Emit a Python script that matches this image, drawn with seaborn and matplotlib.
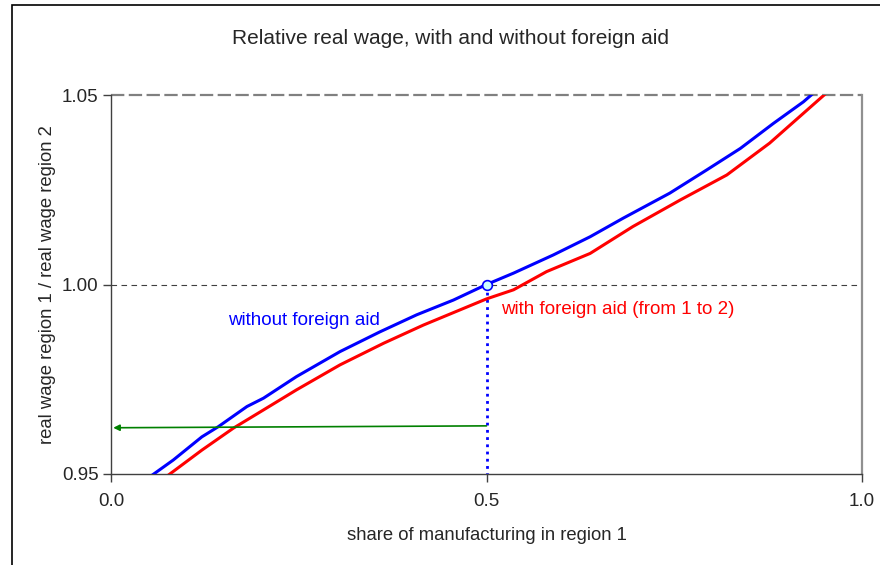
import numpy as np
import pandas as pd
import seaborn as sns
import matplotlib.pyplot as plt
from matplotlib.patches import Rectangle

# relative real wage
share_no_aid = [0.045, 0.052, 0.083, 0.121, 0.143, 0.181, 0.203, 0.247, 0.305, 0.358, 0.407,
                0.456, 0.500, 0.536, 0.589, 0.638, 0.682, 0.744, 0.793, 0.838, 0.882,
                0.922, 0.940, 0.950]
wage_no_aid = [0.9482, 0.9493, 0.9537, 0.9598, 0.9625, 0.9678, 0.9700, 0.9757, 0.9823, 0.9875, 0.9920,
               0.9959, 1.0000, 1.0030, 1.0078, 1.0126, 1.0175, 1.0241, 1.0302, 1.0359, 1.0425,
               1.0482, 1.0513, 1.0530]

share_aid = [0.060, 0.0675, 0.121, 0.163, 0.203, 0.247, 0.305, 0.363, 0.416, 0.500, 0.536,
             0.580, 0.638, 0.695, 0.758, 0.820, 0.877, 0.917, 0.957, 0.965]
wage_aid = [0.9472, 0.9484, 0.9563, 0.9621, 0.9669, 0.9722, 0.9788, 0.9845, 0.9893, 0.9962, 0.9986,
            1.0034, 1.0082, 1.0153, 1.0223, 1.0289, 1.0373, 1.0443, 1.0513, 1.0528]

eq_share = 0.5
eq_wage = 1.0
aid_wage_start = 0.9627
aid_wage_end = 0.9622

x_ticks = [0.0, 0.5, 1.0]
x_ticklabels = ["0.0", "0.5", "1.0"]
y_ticks = [0.95, 1.00, 1.05]
y_ticklabels = ["0.95", "1.00", "1.05"]

sns.set_style("white")
plt.rcParams['font.family'] = ['Liberation Sans', 'DejaVu Sans']

fig = plt.figure(figsize=(8.8, 5.65), dpi=100)
ax = fig.add_axes([111/880, 1-474/565, (862-111)/880, (474-95)/565])

# outer frame (cropped at right / bottom)
fig.patches.append(Rectangle((12/880, -0.1), 1.2, 1-5/565+0.1, transform=fig.transFigure,
                             fill=False, edgecolor="black", linewidth=1.2))

df1 = pd.DataFrame({"share": share_no_aid, "wage": wage_no_aid})
df2 = pd.DataFrame({"share": share_aid, "wage": wage_aid})

ax.axhline(1.0, color="#404040", lw=0.8, ls=(0, (5, 4)), zorder=1)
ax.axhline(1.05, color="#808080", lw=1.6, ls=(0, (6, 2)), zorder=1, clip_on=False)

sns.lineplot(data=df2, x="share", y="wage", ax=ax, color="#FF0000", lw=2.2, sort=False, estimator=None, zorder=3)
sns.lineplot(data=df1, x="share", y="wage", ax=ax, color="#0000FF", lw=2.2, sort=False, estimator=None, zorder=4)

ax.plot([eq_share, eq_share], [eq_wage, 0.95], color="#0000FF", lw=2, ls=(0, (1, 1.6)), zorder=2)
ax.annotate("", xy=(0.003, aid_wage_end), xytext=(eq_share, aid_wage_start),
            arrowprops=dict(arrowstyle="-|>", color="#008000", lw=1.2, mutation_scale=9,
                            shrinkA=0, shrinkB=0), zorder=5)
ax.plot([eq_share], [eq_wage], marker="o", ms=7, mfc="#CCFFFF", mec="#0000FF", mew=1.2, zorder=6)

ax.text(0.156, 0.9906, "without foreign aid", color="#0000FF", fontsize=13.5, va="center", ha="left")
ax.text(0.519, 0.9935, "with foreign aid (from 1 to 2)", color="#FF0000", fontsize=13.5, va="center", ha="left")

ax.set_xlim(0, 1)
ax.set_ylim(0.95, 1.05)
ax.set_xticks(x_ticks)
ax.set_xticklabels(x_ticklabels)
ax.set_yticks(y_ticks)
ax.set_yticklabels(y_ticklabels)
ax.tick_params(axis="both", direction="out", length=6, width=1, color="#404040",
               labelsize=13.5, left=True, bottom=True)
ax.tick_params(axis="y", pad=3)
ax.tick_params(axis="x", pad=8)

ax.spines["top"].set_visible(False)
ax.spines["left"].set_color("#404040")
ax.spines["bottom"].set_color("#404040")
ax.spines["right"].set_color("#909090")
ax.spines["right"].set_linewidth(1.6)
for s in ["left", "bottom"]:
    ax.spines[s].set_linewidth(1.0)

ax.set_xlabel("share of manufacturing in region 1", fontsize=13.3, labelpad=12)
ax.set_ylabel("real wage region 1 / real wage region 2", fontsize=13.3, labelpad=4)
fig.text(450/880, 1-38/565, "Relative real wage, with and without foreign aid", fontsize=15,
         ha="center", va="center")

fig.savefig("out.png", dpi=100)
